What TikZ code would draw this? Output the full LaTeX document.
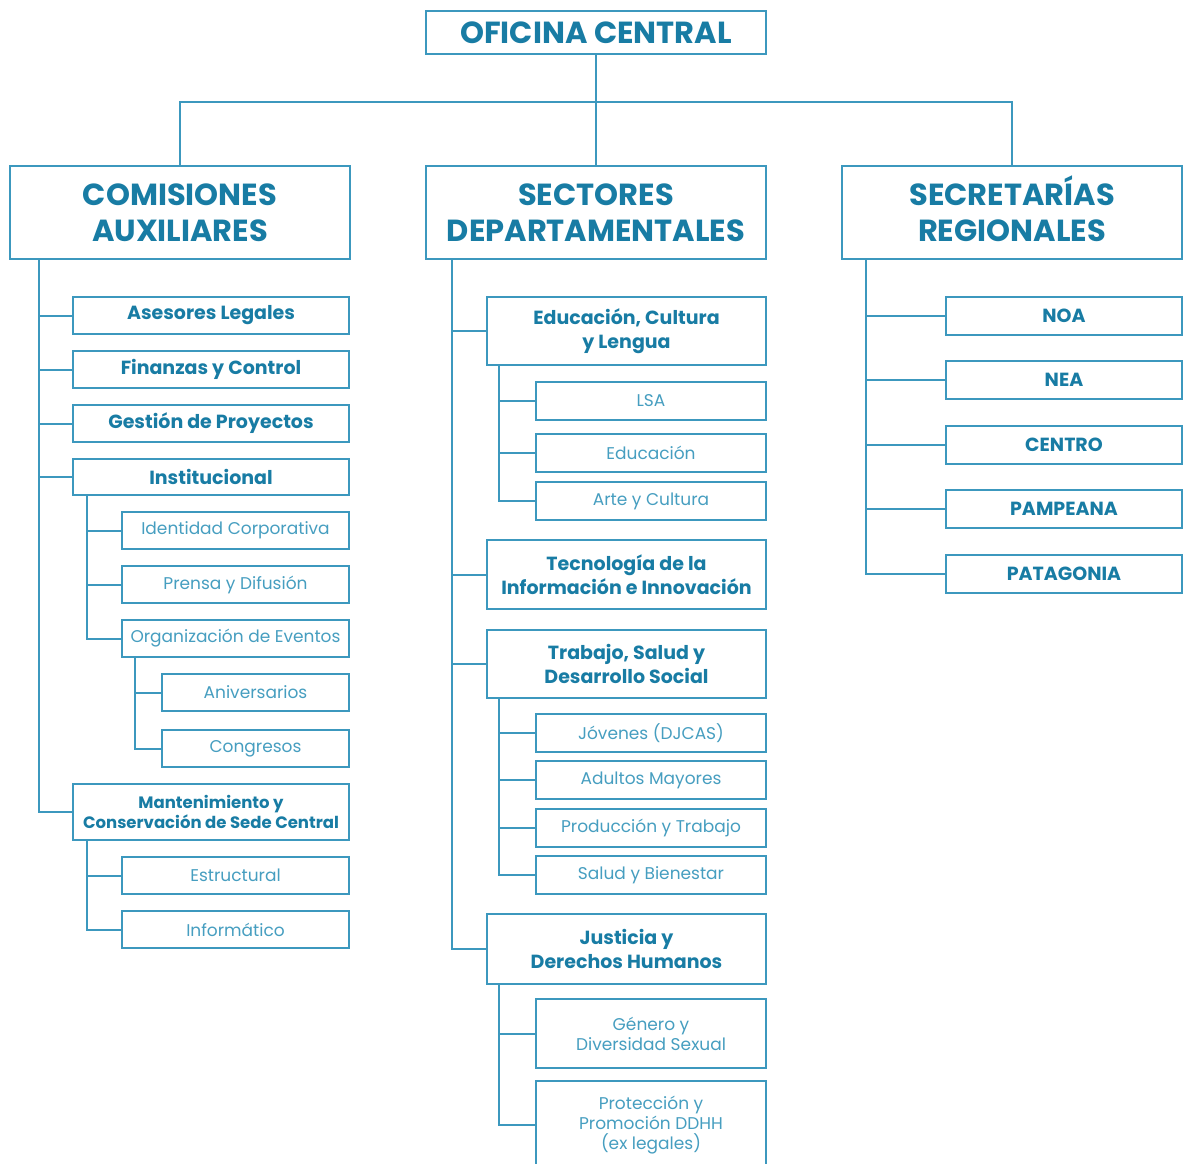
\documentclass[tikz,border=0pt]{standalone}
\usepackage{fontspec}
\setmainfont{Poppins}
\definecolor{tc}{RGB}{24,124,164}
\definecolor{ltc}{RGB}{70,158,192}
\definecolor{lc}{RGB}{60,152,190}
\tikzset{
  box/.style={draw=lc, line width=2pt, fill=white, inner sep=0pt, align=center},
  hd/.style={box, minimum width=340pt, font=\fontsize{30.5}{36}\selectfont\bfseries, text=tc},
  bx/.style={box, font=\fontsize{19}{24}\selectfont\bfseries, text=tc},
  bxl/.style={bx, minimum width=276pt},
  bxm/.style={bx, minimum width=279pt},
  bxr/.style={bx, minimum width=236pt},
  lt/.style={box, font=\fontsize{17}{20}\selectfont, text=ltc},
  ln/.style={draw=lc, line width=2pt}
}
\begin{document}
\begin{tikzpicture}[x=1pt,y=-1pt]
\useasboundingbox[fill=white] (0,0) rectangle (1187,1163);
\begin{scope}
\clip (0,0) rectangle (1187,1163);
% top
\node[hd, minimum height=43pt] (oc) at (596,32.5) {OFICINA CENTRAL};
\node[hd, minimum height=93pt] (com) at (180,212.5) {COMISIONES\\AUXILIARES};
\node[hd, minimum height=93pt] (sd) at (596,212.5) {SECTORES\\DEPARTAMENTALES};
\node[hd, minimum height=93pt] (sr) at (1012,212.5) {SECRETAR\smash{Í}AS\\REGIONALES};
% left column
\node[bxl, minimum height=37pt] (al) at (211,315.5) {Asesores Legales};
\node[bxl, minimum height=37pt] (fc) at (211,369.5) {Finanzas y Control};
\node[bxl, minimum height=37pt] (gp) at (211,423.5) {Gestión de Proyectos};
\node[bxl, minimum height=36pt] (ins) at (211,477) {Institucional};
\node[lt, minimum width=227pt, minimum height=37pt] (ic) at (235.5,530.5) {Identidad Corporativa};
\node[lt, minimum width=227pt, minimum height=37pt] (pd) at (235.5,584.5) {Prensa y Difusión};
\node[lt, minimum width=227pt, minimum height=37pt] (oe) at (235.5,638.5) {Organización de Eventos};
\node[lt, minimum width=187pt, minimum height=37pt] (an) at (255.5,692.5) {Aniversarios};
\node[lt, minimum width=187pt, minimum height=37pt] (co) at (255.5,748.5) {Congresos};
\node[bxl, minimum height=56pt, font=\fontsize{16.5}{20}\selectfont\bfseries] (mc) at (211,812) {Mantenimiento y\\Conservación de Sede Central};
\node[lt, minimum width=227pt, minimum height=37pt] (es) at (235.5,875.5) {Estructural};
\node[lt, minimum width=227pt, minimum height=37pt] (inf) at (235.5,929.5) {Informático};
% middle column
\node[bxm, minimum height=68pt] (ecl) at (626.5,331) {Educación, Cultura\\y Lengua};
\node[lt, minimum width=230pt, minimum height=38pt] (lsa) at (651,401) {LSA};
\node[lt, minimum width=230pt, minimum height=38pt] (edu) at (651,453) {Educación};
\node[lt, minimum width=230pt, minimum height=38pt] (ayc) at (651,501) {Arte y Cultura};
\node[bxm, minimum height=69pt] (tii) at (626.5,574.5) {Tecnología de la\\Información e Innovación};
\node[bxm, minimum height=68pt] (tsd) at (626.5,664) {Trabajo, Salud y\\Desarrollo Social};
\node[lt, minimum width=230pt, minimum height=38pt] (jov) at (651,733) {Jóvenes (DJCAS)};
\node[lt, minimum width=230pt, minimum height=38pt] (am) at (651,780) {Adultos Mayores};
\node[lt, minimum width=230pt, minimum height=38pt] (pt) at (651,828) {Producción y Trabajo};
\node[lt, minimum width=230pt, minimum height=38pt] (sb) at (651,875) {Salud y Bienestar};
\node[bxm, minimum height=70pt] (jdh) at (626.5,948.5) {Justicia y\\Derechos Humanos};
\node[lt, minimum width=230pt, minimum height=69pt] (gds) at (651,1033.5) {Género y\\Diversidad Sexual};
\node[lt, minimum width=230pt, minimum height=88pt] (pdd) at (651,1125) {Protección y\\Promoción DDHH\\(ex legales)};
% right column
\node[bxr, minimum height=38pt] (noa) at (1064,316) {NOA};
\node[bxr, minimum height=38pt] (nea) at (1064,380) {NEA};
\node[bxr, minimum height=38pt] (cen) at (1064,445) {CENTRO};
\node[bxr, minimum height=38pt] (pam) at (1064,509) {PAMPEANA};
\node[bxr, minimum height=38pt] (pat) at (1064,574) {PATAGONIA};
% connectors top
\coordinate (bar) at (0,102);
\draw[ln] (oc.south) -- (sd.north);
\draw[ln] (com.north) -- (com.north |- bar) -- (sr.north |- bar) -- (sr.north);
% left
\foreach \c in {al,fc,gp,ins,mc} \draw[ln] ([xshift=30pt]com.south west) |- (\c.west);
\foreach \c in {ic,pd,oe} \draw[ln] ([xshift=15pt]ins.south west) |- (\c.west);
\foreach \c in {an,co} \draw[ln] ([xshift=14pt]oe.south west) |- (\c.west);
\foreach \c in {es,inf} \draw[ln] ([xshift=15pt]mc.south west) |- (\c.west);
% middle
\foreach \c in {ecl,tii,tsd,jdh} \draw[ln] ([xshift=27pt]sd.south west) |- (\c.west);
\foreach \c in {lsa,edu,ayc} \draw[ln] ([xshift=13pt]ecl.south west) |- (\c.west);
\foreach \c in {jov,am,pt,sb} \draw[ln] ([xshift=13pt]tsd.south west) |- (\c.west);
\foreach \c in {gds,pdd} \draw[ln] ([xshift=13pt]jdh.south west) |- (\c.west);
% right
\foreach \c in {noa,nea,cen,pam,pat} \draw[ln] ([xshift=25pt]sr.south west) |- (\c.west);
\end{scope}
\end{tikzpicture}
\end{document}
